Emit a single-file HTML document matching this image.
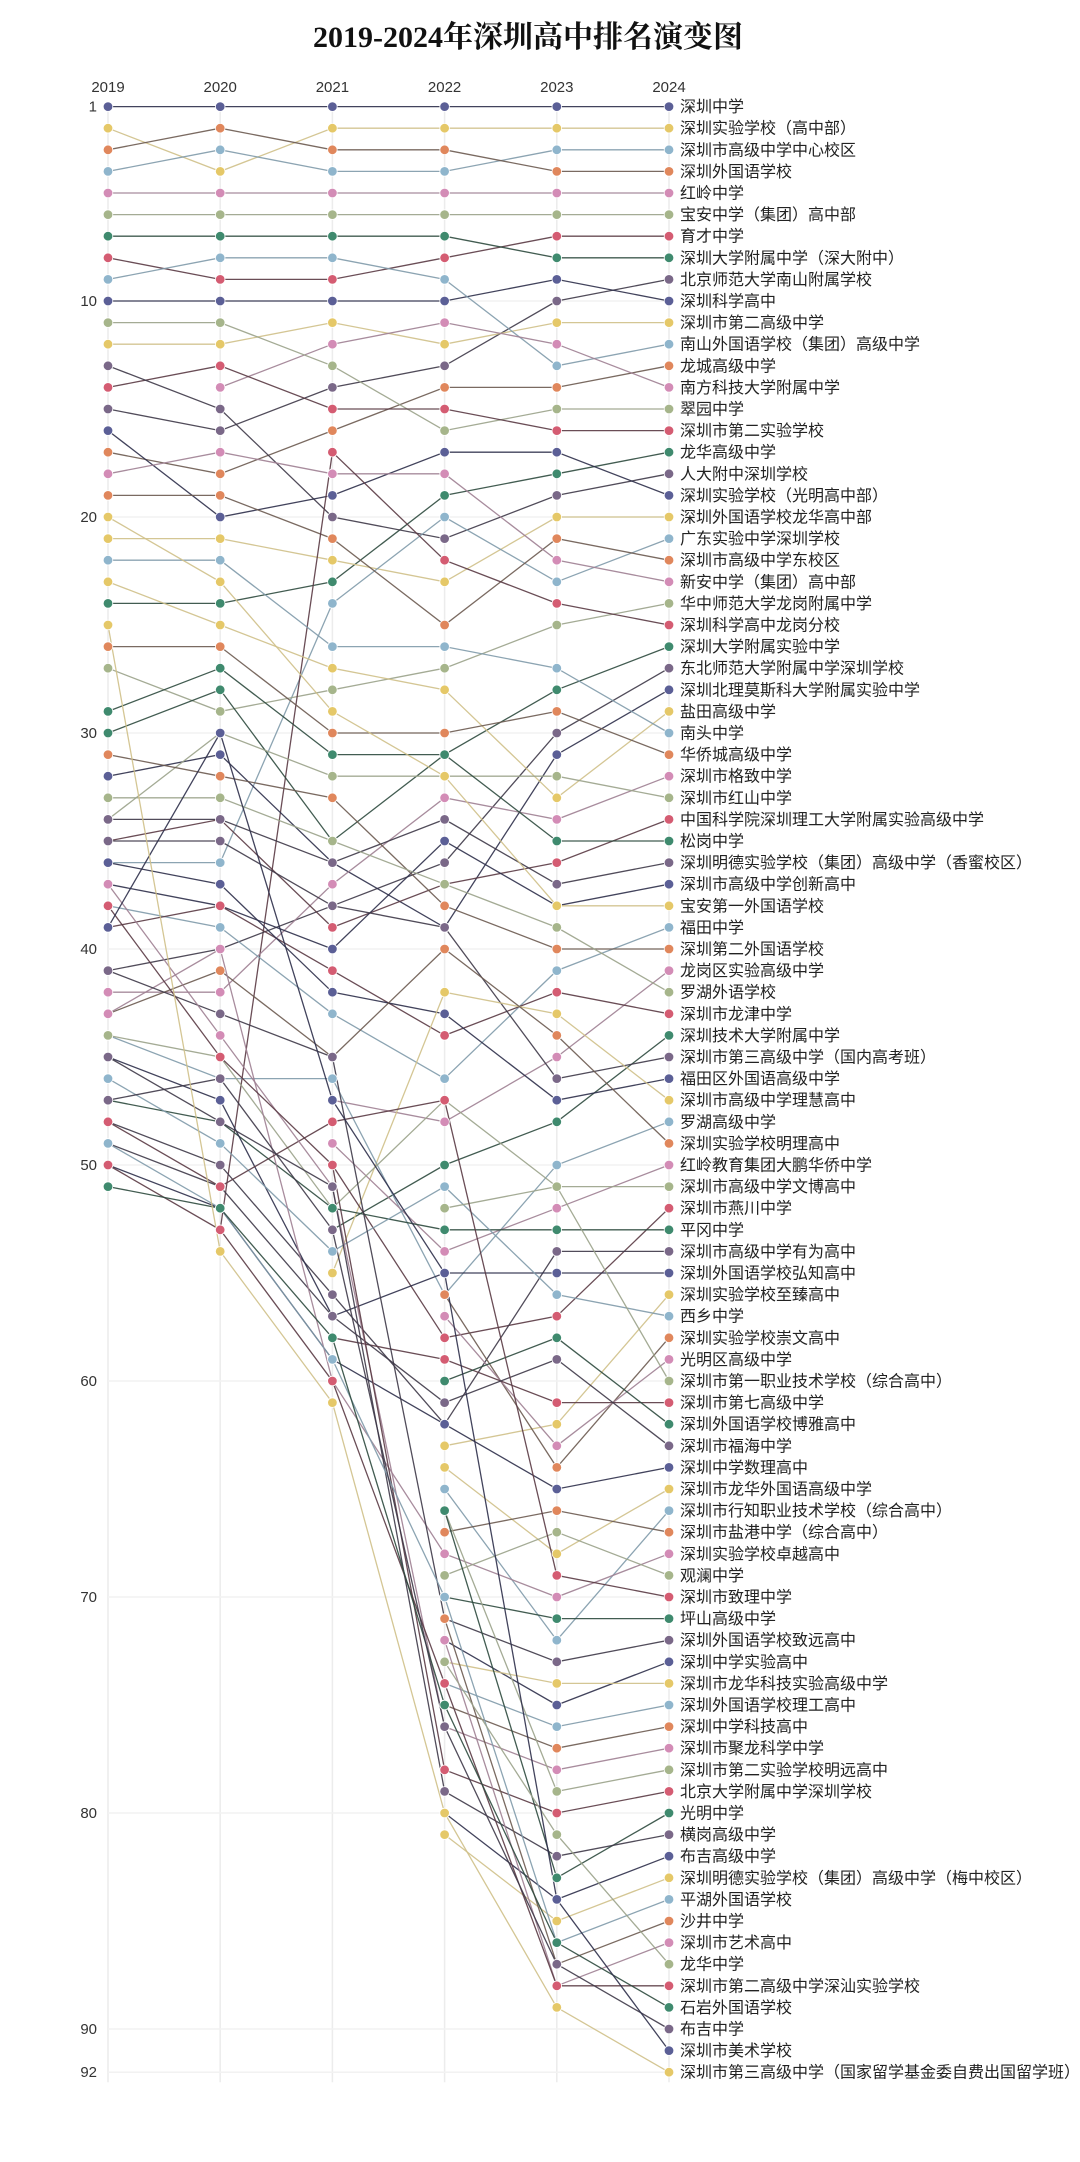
<!DOCTYPE html>
<html><head><meta charset="utf-8"><title>2019-2024年深圳高中排名演变图</title>
<style>
html,body{margin:0;padding:0;background:#fff;}
#wrap{position:relative;width:1080px;height:2162px;overflow:hidden;}
svg{position:absolute;left:0;top:0;}
</style></head>
<body>
<div id="wrap">
<svg id="chart" width="1080" height="2162" viewBox="0 0 1080 2162">
<text x="528" y="47" text-anchor="middle" font-family="'Liberation Serif','Noto Serif CJK SC',serif" font-weight="bold" font-size="30" fill="#111">2019-2024年深圳高中排名演变图</text>
<g id="grid"></g><g id="lines"></g><g id="dots"></g><g id="labels"></g><g id="axis"></g>
</svg>
</div>
<script>
const years = ["2019","2020","2021","2022","2023","2024"];
const yTicks = [1,10,20,30,40,50,60,70,80,90,92];
const schools = ["深圳中学","深圳实验学校（高中部）","深圳市高级中学中心校区","深圳外国语学校","红岭中学","宝安中学（集团）高中部","育才中学","深圳大学附属中学（深大附中）","北京师范大学南山附属学校","深圳科学高中","深圳市第二高级中学","南山外国语学校（集团）高级中学","龙城高级中学","南方科技大学附属中学","翠园中学","深圳市第二实验学校","龙华高级中学","人大附中深圳学校","深圳实验学校（光明高中部）","深圳外国语学校龙华高中部","广东实验中学深圳学校","深圳市高级中学东校区","新安中学（集团）高中部","华中师范大学龙岗附属中学","深圳科学高中龙岗分校","深圳大学附属实验中学","东北师范大学附属中学深圳学校","深圳北理莫斯科大学附属实验中学","盐田高级中学","南头中学","华侨城高级中学","深圳市格致中学","深圳市红山中学","中国科学院深圳理工大学附属实验高级中学","松岗中学","深圳明德实验学校（集团）高级中学（香蜜校区）","深圳市高级中学创新高中","宝安第一外国语学校","福田中学","深圳第二外国语学校","龙岗区实验高级中学","罗湖外语学校","深圳市龙津中学","深圳技术大学附属中学","深圳市第三高级中学（国内高考班）","福田区外国语高级中学","深圳市高级中学理慧高中","罗湖高级中学","深圳实验学校明理高中","红岭教育集团大鹏华侨中学","深圳市高级中学文博高中","深圳市燕川中学","平冈中学","深圳市高级中学有为高中","深圳外国语学校弘知高中","深圳实验学校至臻高中","西乡中学","深圳实验学校崇文高中","光明区高级中学","深圳市第一职业技术学校（综合高中）","深圳市第七高级中学","深圳外国语学校博雅高中","深圳市福海中学","深圳中学数理高中","深圳市龙华外国语高级中学","深圳市行知职业技术学校（综合高中）","深圳市盐港中学（综合高中）","深圳实验学校卓越高中","观澜中学","深圳市致理中学","坪山高级中学","深圳外国语学校致远高中","深圳中学实验高中","深圳市龙华科技实验高级中学","深圳外国语学校理工高中","深圳中学科技高中","深圳市聚龙科学中学","深圳市第二实验学校明远高中","北京大学附属中学深圳学校","光明中学","横岗高级中学","布吉高级中学","深圳明德实验学校（集团）高级中学（梅中校区）","平湖外国语学校","沙井中学","深圳市艺术高中","龙华中学","深圳市第二高级中学深汕实验学校","石岩外国语学校","布吉中学","深圳市美术学校","深圳市第三高级中学（国家留学基金委自费出国留学班）"];
const N = null;
const rank2019 = [1,2,4,3,5,6,8,7,15,10,12,9,17,N,11,14,24,13,16,21,36,19,18,27,N,30,41,32,23,22,26,42,34,35,29,34,37,20,38,31,N,33,39,N,35,36,N,44,43,N,44,N,47,48,45,N,46,N,N,N,N,N,49,50,N,N,N,43,N,48,N,41,N,N,N,N,37,N,38,N,45,N,N,49,N,N,N,50,51,47,39,25];
const rank2020 = [1,4,3,2,5,6,9,7,16,10,12,8,18,14,11,13,24,15,20,21,36,19,17,29,53,28,40,31,25,22,26,42,30,34,27,34,38,23,39,32,N,33,38,N,35,37,N,46,41,N,45,N,48,50,47,N,49,N,N,N,N,N,51,52,N,N,N,40,N,51,N,43,N,N,N,N,44,N,45,N,48,N,N,52,N,N,N,53,52,46,30,54];
const rank2021 = [1,2,4,3,5,6,9,7,14,10,11,8,16,12,13,15,23,20,19,22,24,21,18,28,17,35,38,36,27,26,30,37,32,39,31,36,40,29,43,33,47,35,41,53,38,42,55,46,45,49,52,50,52,56,57,N,54,N,N,N,58,N,57,59,N,N,N,60,N,48,N,45,N,N,N,N,51,N,50,N,51,N,N,59,N,N,N,60,58,53,47,61];
const rank2022 = [1,2,4,3,5,6,8,7,13,10,12,9,14,11,16,15,19,21,17,23,20,25,18,27,22,31,36,39,28,26,30,33,32,37,31,34,35,32,46,38,48,37,44,50,39,43,42,56,40,54,47,58,53,62,55,63,51,56,57,52,59,60,61,62,64,65,67,68,69,47,70,71,72,73,74,75,76,66,78,66,79,80,81,70,71,72,73,74,75,76,55,80];
const rank2023 = [1,2,3,4,5,6,7,8,10,9,11,13,14,12,15,16,18,19,17,20,23,21,22,25,24,28,30,31,33,27,29,34,32,36,35,37,38,38,41,40,45,39,42,48,46,47,43,50,44,52,51,57,53,54,55,62,56,64,63,51,61,58,59,65,68,72,66,70,67,69,71,73,75,74,76,77,78,79,80,83,82,84,85,86,87,88,81,88,86,87,84,89];
const rank2024 = schools.map((s,i)=>i+1);
const series = [rank2019,rank2020,rank2021,rank2022,rank2023,rank2024];

const NS = "http://www.w3.org/2000/svg";
const xOf = i => 108 + i*112.2;
const yOf = r => 106.6 + (r-1)*21.6;
const dotColors = ['#5b5f96','#e5c868','#8fb5cc','#e0875c','#d38cb6','#a6b58b','#d45c72','#3f8a6e','#7a6888'];
const lineColors = ['#2e2f4a','#cfc088','#7f9aaa','#6b5a50','#9e7f92','#9aa28a','#5a3a44','#2d4a3e','#3e3848'];
function mk(tag, attrs, parent){const e=document.createElementNS(NS,tag);for(const k in attrs)e.setAttribute(k,attrs[k]);parent.appendChild(e);return e;}

const grid=document.getElementById('grid'), axis=document.getElementById('axis');
years.forEach((yr,i)=>{
  const gl=mk('line',{x1:xOf(i),x2:xOf(i),y1:yOf(1),y2:yOf(92)+10,stroke:'#ececec','stroke-width':1.5},grid);
  
  
  const t=mk('text',{x:xOf(i),y:92,'text-anchor':'middle','font-family':"'Liberation Sans',sans-serif",'font-size':15,fill:'#333'},axis);
  t.textContent=yr;
  
  
});
yTicks.forEach(r=>{
  if(r>1){const hl=mk('line',{x1:xOf(0),x2:xOf(5),y1:yOf(r),y2:yOf(r),stroke:'#f2f2f2','stroke-width':1.5},grid);
  
  }
  const t=mk('text',{x:97,y:yOf(r)+5,'text-anchor':'end','font-family':"'Liberation Sans',sans-serif",'font-size':15,fill:'#333'},axis);
  t.textContent=r;
  
  
});

const lines=document.getElementById('lines'), dots=document.getElementById('dots'), labels=document.getElementById('labels');
schools.forEach((name,s)=>{
  const ci=s%9;
  let d='';
  series.forEach((arr,i)=>{const r=arr[s]; if(r==null) return; d+=(d?'L':'M')+xOf(i).toFixed(1)+','+yOf(r).toFixed(1);});
  const p=mk('path',{d:d,fill:'none',stroke:lineColors[ci],'stroke-width':1.3,'stroke-opacity':0.9},lines);
  
  
  series.forEach((arr,i)=>{const r=arr[s]; if(r==null) return;
    const c=mk('circle',{cx:xOf(i),cy:yOf(r),r:4.8,fill:dotColors[ci],stroke:'#fff','stroke-width':0.8},dots);
    
    
  });
  const t=mk('text',{x:680,y:yOf(s+1)+5.5,'font-family':"'Liberation Sans','Noto Sans CJK SC',sans-serif",'font-size':16,fill:'#222'},labels);
  t.textContent=name;
  
  
});
</script>
</body></html>
